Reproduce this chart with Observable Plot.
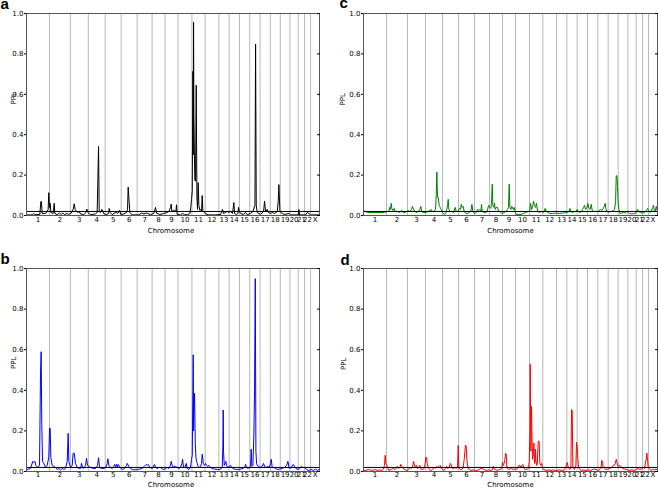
<!DOCTYPE html>
<html><head><meta charset="utf-8">
<script src="https://cdn.jsdelivr.net/npm/d3@7"></script>
<script src="https://cdn.jsdelivr.net/npm/@observablehq/plot@0.6"></script>
<style>
body{margin:0;background:#fff;}
#chart{position:relative;width:658px;height:490px;overflow:hidden;font-family:"DejaVu Sans";}
#chart > svg{position:absolute;}
</style></head><body><div id="chart"></div>
<script>
const chromNames = ["1","2","3","4","5","6","7","8","9","10","11","12","13","14","15","16","17","18","19","20","21","22","X"];
const chromLengths = [282,257,220,208,196,196,184,159,159,171,163,168,126,127,126,127,126,122,119,102,78,73,110];
const yTicks = [0, 0.2, 0.4, 0.6, 0.8, 1.0];
const threshold = 0.02;

// [position (cM, genome-wide), PPL]
const traceA = [[8,0.003],[70,0.003],[90,0.01],[102,0.004],[164,0.005],[176,0.07],[184,0.068],[192,0.01],[233,0.01],[254,0.02],[266,0.03],[274,0.113],[283,0.04],[291,0.06],[299,0.015],[328,0.01],[340,0.06],[348,0.01],[377,0.004],[405,0.012],[426,0.005],[446,0.012],[467,0.005],[500,0.01],[520,0.005],[549,0.012],[573,0.03],[586,0.058],[598,0.03],[614,0.02],[631,0.015],[647,0.02],[663,0.008],[704,0.004],[729,0.015],[741,0.032],[754,0.015],[786,0.004],[848,0.008],[868,0.015],[885,0.342],[893,0.02],[909,0.015],[926,0.03],[938,0.02],[950,0.008],[983,0.005],[1008,0.01],[1016,0.035],[1028,0.015],[1053,0.004],[1081,0.012],[1106,0.015],[1122,0.01],[1143,0.025],[1159,0.005],[1196,0.008],[1229,0.015],[1241,0.03],[1249,0.14],[1257,0.09],[1270,0.015],[1298,0.003],[1380,0.003],[1413,0.012],[1442,0.008],[1470,0.012],[1491,0.01],[1524,0.003],[1565,0.012],[1585,0.04],[1597,0.012],[1638,0.005],[1687,0.01],[1728,0.015],[1749,0.02],[1769,0.04],[1777,0.056],[1786,0.02],[1810,0.025],[1835,0.02],[1843,0.053],[1851,0.005],[1892,0.003],[1917,0.01],[1941,0.005],[1974,0.003],[2007,0.01],[2019,0.045],[2027,0.08],[2036,0.12],[2044,0.714],[2048,0.3],[2052,0.957],[2056,0.5],[2064,0.26],[2068,0.175],[2076,0.17],[2085,0.645],[2093,0.09],[2101,0.03],[2109,0.163],[2117,0.05],[2130,0.025],[2142,0.03],[2150,0.02],[2158,0.099],[2167,0.02],[2183,0.02],[2199,0.008],[2240,0.003],[2322,0.003],[2384,0.005],[2408,0.03],[2420,0.01],[2445,0.015],[2466,0.02],[2482,0.015],[2507,0.02],[2531,0.01],[2547,0.064],[2556,0.01],[2580,0.004],[2597,0.01],[2605,0.04],[2613,0.02],[2629,0.01],[2662,0.005],[2691,0.015],[2711,0.004],[2752,0.01],[2781,0.02],[2806,0.05],[2814,0.849],[2822,0.05],[2834,0.015],[2875,0.005],[2912,0.02],[2924,0.071],[2937,0.02],[2957,0.03],[2969,0.015],[2998,0.01],[3018,0.015],[3047,0.01],[3080,0.02],[3092,0.07],[3100,0.153],[3113,0.02],[3141,0.01],[3170,0.005],[3223,0.01],[3244,0.003],[3338,0.003],[3346,0.03],[3354,0.003],[3428,0.003],[3449,0.015],[3469,0.01],[3489,0.003],[3592,0.003]];

const traceB = [[8,0.01],[49,0.015],[78,0.05],[90,0.045],[102,0.05],[115,0.03],[139,0.02],[160,0.03],[172,0.48],[180,0.59],[188,0.23],[197,0.05],[213,0.04],[233,0.02],[254,0.03],[274,0.07],[283,0.215],[291,0.21],[299,0.07],[315,0.03],[336,0.025],[356,0.02],[377,0.01],[397,0.015],[418,0.008],[438,0.015],[459,0.01],[479,0.015],[500,0.05],[512,0.188],[520,0.05],[541,0.02],[561,0.03],[573,0.09],[586,0.09],[602,0.04],[623,0.02],[647,0.015],[663,0.015],[676,0.04],[688,0.02],[704,0.015],[725,0.03],[737,0.065],[750,0.03],[786,0.02],[819,0.015],[848,0.015],[872,0.03],[885,0.068],[897,0.02],[922,0.015],[950,0.015],[975,0.02],[991,0.04],[999,0.063],[1012,0.03],[1032,0.02],[1053,0.015],[1073,0.025],[1081,0.035],[1094,0.025],[1106,0.035],[1114,0.02],[1126,0.035],[1147,0.02],[1175,0.01],[1204,0.015],[1229,0.03],[1237,0.04],[1257,0.025],[1278,0.015],[1298,0.01],[1327,0.008],[1360,0.01],[1392,0.012],[1421,0.015],[1446,0.025],[1470,0.035],[1483,0.03],[1495,0.035],[1515,0.02],[1544,0.015],[1573,0.035],[1585,0.02],[1605,0.015],[1626,0.02],[1646,0.02],[1667,0.012],[1687,0.01],[1708,0.015],[1728,0.02],[1749,0.015],[1769,0.03],[1777,0.05],[1790,0.03],[1798,0.02],[1814,0.025],[1831,0.025],[1851,0.02],[1872,0.015],[1892,0.02],[1909,0.04],[1917,0.06],[1929,0.02],[1945,0.02],[1962,0.04],[1974,0.015],[1995,0.01],[2015,0.02],[2027,0.06],[2036,0.08],[2044,0.4],[2048,0.575],[2052,0.2],[2056,0.3],[2064,0.385],[2073,0.14],[2081,0.07],[2089,0.05],[2097,0.04],[2109,0.025],[2122,0.02],[2138,0.025],[2150,0.04],[2158,0.085],[2167,0.06],[2171,0.04],[2187,0.03],[2199,0.04],[2212,0.03],[2224,0.025],[2240,0.03],[2261,0.02],[2281,0.015],[2310,0.012],[2343,0.01],[2375,0.01],[2404,0.02],[2412,0.12],[2416,0.303],[2420,0.1],[2429,0.03],[2449,0.05],[2457,0.03],[2474,0.02],[2490,0.025],[2507,0.03],[2519,0.02],[2539,0.015],[2568,0.01],[2597,0.01],[2629,0.012],[2662,0.015],[2683,0.025],[2691,0.035],[2703,0.02],[2719,0.015],[2744,0.02],[2752,0.03],[2760,0.11],[2769,0.025],[2781,0.03],[2793,0.18],[2801,0.4],[2810,0.95],[2818,0.1],[2826,0.04],[2834,0.03],[2855,0.025],[2875,0.02],[2895,0.025],[2912,0.04],[2924,0.025],[2945,0.02],[2965,0.025],[2982,0.02],[2998,0.04],[3006,0.06],[3018,0.02],[3039,0.02],[3059,0.015],[3080,0.01],[3113,0.012],[3141,0.015],[3170,0.02],[3195,0.03],[3211,0.05],[3227,0.015],[3252,0.02],[3277,0.035],[3293,0.025],[3309,0.015],[3334,0.01],[3358,0.015],[3375,0.025],[3391,0.02],[3416,0.02],[3440,0.01],[3469,0.005],[3498,0.01],[3522,0.005],[3551,0.012],[3571,0.005],[3596,0.01]];

const traceC = [[0,0.025],[20,0.02],[49,0.015],[90,0.015],[151,0.015],[212,0.015],[253,0.015],[294,0.02],[314,0.025],[322,0.04],[331,0.03],[339,0.06],[347,0.035],[359,0.025],[376,0.035],[388,0.02],[416,0.02],[437,0.015],[457,0.02],[469,0.025],[486,0.015],[510,0.015],[527,0.02],[551,0.025],[567,0.02],[588,0.03],[600,0.045],[612,0.03],[629,0.02],[649,0.015],[673,0.02],[690,0.03],[702,0.045],[710,0.02],[731,0.015],[763,0.015],[792,0.02],[816,0.025],[829,0.03],[841,0.02],[861,0.02],[882,0.03],[890,0.1],[898,0.215],[906,0.09],[914,0.09],[927,0.05],[939,0.04],[951,0.03],[967,0.015],[988,0.005],[1008,0.01],[1020,0.03],[1029,0.05],[1037,0.08],[1045,0.03],[1057,0.02],[1082,0.02],[1102,0.015],[1122,0.04],[1135,0.02],[1155,0.02],[1176,0.035],[1188,0.03],[1196,0.055],[1208,0.04],[1220,0.045],[1233,0.02],[1253,0.01],[1273,0.01],[1294,0.015],[1314,0.02],[1327,0.055],[1339,0.02],[1359,0.01],[1380,0.015],[1396,0.03],[1412,0.025],[1424,0.03],[1437,0.02],[1445,0.055],[1453,0.02],[1478,0.015],[1498,0.015],[1514,0.02],[1531,0.05],[1547,0.04],[1559,0.035],[1567,0.06],[1576,0.155],[1584,0.05],[1596,0.04],[1604,0.06],[1612,0.03],[1624,0.04],[1641,0.04],[1653,0.02],[1669,0.02],[1694,0.01],[1722,0.015],[1743,0.02],[1763,0.03],[1775,0.04],[1784,0.155],[1792,0.04],[1804,0.03],[1816,0.045],[1833,0.03],[1845,0.04],[1857,0.02],[1869,0.005],[1898,0.005],[1927,0.005],[1955,0.01],[1988,0.015],[2016,0.02],[2033,0.02],[2045,0.06],[2057,0.03],[2069,0.04],[2082,0.07],[2094,0.05],[2106,0.04],[2118,0.06],[2131,0.02],[2151,0.015],[2176,0.02],[2196,0.015],[2212,0.02],[2224,0.035],[2237,0.02],[2257,0.015],[2282,0.01],[2314,0.01],[2355,0.012],[2396,0.01],[2437,0.012],[2469,0.015],[2498,0.015],[2518,0.02],[2526,0.035],[2539,0.02],[2559,0.015],[2584,0.02],[2600,0.02],[2616,0.03],[2629,0.02],[2649,0.015],[2669,0.02],[2682,0.03],[2694,0.04],[2706,0.05],[2718,0.03],[2735,0.04],[2747,0.06],[2759,0.035],[2775,0.03],[2788,0.055],[2800,0.025],[2820,0.02],[2845,0.02],[2869,0.02],[2886,0.025],[2902,0.03],[2918,0.025],[2935,0.035],[2947,0.045],[2959,0.06],[2967,0.035],[2980,0.02],[3000,0.015],[3020,0.02],[3041,0.02],[3057,0.025],[3073,0.03],[3086,0.07],[3094,0.195],[3102,0.198],[3110,0.15],[3118,0.06],[3127,0.03],[3139,0.01],[3159,0.012],[3184,0.015],[3204,0.012],[3224,0.02],[3241,0.015],[3257,0.01],[3282,0.008],[3306,0.01],[3335,0.012],[3355,0.03],[3367,0.02],[3388,0.015],[3416,0.012],[3437,0.015],[3465,0.025],[3478,0.035],[3490,0.025],[3506,0.015],[3522,0.02],[3539,0.04],[3551,0.05],[3559,0.025],[3571,0.02],[3584,0.045],[3592,0.03],[3599,0.02]];

const traceD = [[0,0.005],[29,0.005],[57,0.01],[82,0.008],[110,0.005],[143,0.01],[171,0.005],[200,0.008],[224,0.005],[245,0.012],[257,0.03],[265,0.08],[273,0.04],[282,0.035],[294,0.02],[314,0.005],[339,0.01],[359,0.015],[380,0.01],[400,0.015],[416,0.025],[429,0.015],[445,0.02],[457,0.035],[469,0.025],[486,0.015],[506,0.01],[531,0.005],[551,0.01],[571,0.02],[588,0.015],[600,0.02],[612,0.05],[620,0.04],[633,0.02],[649,0.03],[661,0.015],[678,0.02],[690,0.03],[702,0.012],[722,0.01],[743,0.015],[755,0.04],[763,0.07],[771,0.07],[780,0.04],[792,0.02],[804,0.01],[824,0.005],[845,0.01],[865,0.02],[878,0.015],[894,0.025],[910,0.02],[927,0.025],[939,0.03],[951,0.015],[967,0.01],[988,0.005],[1004,0.015],[1016,0.025],[1029,0.015],[1049,0.02],[1061,0.04],[1073,0.035],[1086,0.015],[1102,0.015],[1118,0.02],[1135,0.015],[1151,0.02],[1159,0.128],[1167,0.02],[1184,0.01],[1204,0.01],[1220,0.02],[1233,0.06],[1241,0.1],[1249,0.13],[1257,0.125],[1265,0.06],[1278,0.02],[1294,0.01],[1314,0.005],[1343,0.008],[1376,0.005],[1408,0.008],[1437,0.015],[1457,0.015],[1478,0.01],[1498,0.005],[1531,0.008],[1559,0.005],[1580,0.01],[1588,0.025],[1600,0.012],[1620,0.008],[1641,0.005],[1661,0.01],[1678,0.01],[1694,0.02],[1702,0.045],[1710,0.03],[1722,0.04],[1731,0.06],[1739,0.09],[1747,0.085],[1755,0.02],[1771,0.012],[1788,0.01],[1808,0.02],[1824,0.01],[1845,0.012],[1865,0.01],[1886,0.015],[1902,0.03],[1914,0.03],[1927,0.02],[1939,0.03],[1951,0.035],[1963,0.015],[1980,0.01],[2000,0.01],[2020,0.015],[2029,0.05],[2037,0.2],[2041,0.528],[2045,0.3],[2049,0.1],[2057,0.32],[2061,0.21],[2069,0.06],[2078,0.08],[2086,0.14],[2094,0.04],[2102,0.05],[2106,0.11],[2110,0.06],[2118,0.03],[2127,0.035],[2139,0.15],[2147,0.15],[2151,0.14],[2159,0.04],[2172,0.03],[2180,0.04],[2192,0.015],[2208,0.01],[2233,0.005],[2261,0.008],[2294,0.005],[2322,0.008],[2355,0.005],[2396,0.008],[2437,0.005],[2461,0.01],[2477,0.02],[2494,0.045],[2506,0.02],[2526,0.01],[2539,0.02],[2547,0.305],[2555,0.3],[2563,0.02],[2584,0.01],[2600,0.03],[2608,0.145],[2616,0.12],[2624,0.06],[2633,0.02],[2649,0.01],[2665,0.005],[2690,0.008],[2722,0.005],[2755,0.008],[2784,0.005],[2804,0.01],[2829,0.012],[2845,0.01],[2869,0.005],[2894,0.01],[2906,0.015],[2918,0.055],[2927,0.04],[2935,0.02],[2951,0.015],[2967,0.01],[2992,0.012],[3016,0.015],[3037,0.02],[3057,0.03],[3069,0.03],[3082,0.04],[3094,0.06],[3106,0.04],[3118,0.025],[3135,0.03],[3151,0.025],[3171,0.015],[3192,0.012],[3212,0.01],[3233,0.008],[3253,0.005],[3282,0.008],[3314,0.005],[3335,0.01],[3355,0.015],[3376,0.01],[3400,0.012],[3424,0.02],[3441,0.015],[3453,0.05],[3461,0.06],[3469,0.09],[3478,0.05],[3486,0.02],[3506,0.01],[3526,0.005],[3547,0.012],[3563,0.008],[3580,0.012],[3599,0.005]];

const ends = d3.cumsum(chromLengths);
const total = ends[ends.length - 1];
const bounds = Array.from(ends).slice(0, -1);
const mids = chromLengths.map((l, i) => ends[i] - l / 2);

const panels = [
  {letter: "a", trace: traceA, color: "#000000", left: 0,   top: 0,   ml: 26, mr: 10, mt: 13, mb: 30, tickDy: 6, labDy: 17, labDx: -2, pplDx: -13, pplDy: -10, letDx: -26, letDy: -5},
  {letter: "c", trace: traceC, color: "#008000", left: 329, top: 0,   ml: 34, mr: 1,  mt: 13, mb: 30, tickDy: 6, labDy: 17, labDx: 0,  pplDx: -21, pplDy: -9,  letDx: -24, letDy: -6},
  {letter: "b", trace: traceB, color: "#0000ff", left: 0,   top: 245, ml: 26, mr: 10, mt: 23, mb: 19, tickDy: 5, labDy: 15, labDx: -2, pplDx: -13, pplDy: -1,  letDx: -26, letDy: -5},
  {letter: "d", trace: traceD, color: "#ff0000", left: 329, top: 245, ml: 34, mr: 1,  mt: 23, mb: 19, tickDy: 5, labDy: 15, labDx: 0,  pplDx: -20, pplDy: 0,   letDx: -23, letDy: -4}
];

const root = document.getElementById("chart");
for (const p of panels) {
  const data = p.trace.map(([pos, ppl]) => ({pos, ppl}));
  const svg = Plot.plot({
    width: 329, height: 245,
    marginLeft: p.ml, marginRight: p.mr, marginTop: p.mt, marginBottom: p.mb,
    x: {domain: [0, total], axis: null},
    y: {domain: [0, 1]},
    style: {fontFamily: "DejaVu Sans", fontSize: "7px", color: "#000", background: "transparent", overflow: "visible"},
    marks: [
      Plot.ruleX(bounds, {stroke: "#b8b8b8", strokeWidth: 1}),
      Plot.line(data, {x: "pos", y: "ppl", stroke: p.color, strokeWidth: 1}),
      Plot.ruleY([threshold], {stroke: "#000", strokeWidth: 1}),
      Plot.frame({stroke: "#555"}),
      Plot.axisY(yTicks, {anchor: "left", tickSize: 2, tickPadding: 1, tickFormat: d3.format(".1f"), label: null}),
      Plot.axisY(yTicks, {anchor: "right", tickSize: -3, tickFormat: () => "", label: null}),
      Plot.text(chromNames, {x: (d, i) => mids[i], frameAnchor: "bottom", dy: p.tickDy}),
      Plot.text(["Chromosome"], {frameAnchor: "bottom", dy: p.labDy, dx: p.labDx}),
      Plot.text(["PPL"], {frameAnchor: "left", rotate: -90, dx: p.pplDx, dy: p.pplDy}),
      Plot.text([p.letter], {frameAnchor: "top-left", dx: p.letDx, dy: p.letDy, textAnchor: "start", lineAnchor: "bottom", fontWeight: "bold", fontSize: 15, fontFamily: "Liberation Sans"})
    ]
  });
  svg.style.left = p.left + "px";
  svg.style.top = p.top + "px";
  root.appendChild(svg);
}
</script>
</body></html>
